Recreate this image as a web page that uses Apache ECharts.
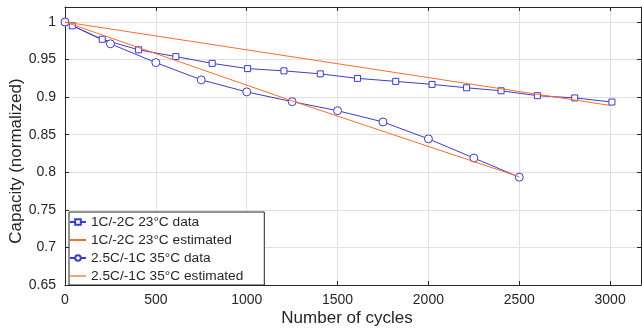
<!DOCTYPE html>
<html>
<head>
<meta charset="utf-8">
<script src="https://cdn.jsdelivr.net/npm/echarts@6/dist/echarts.min.js"></script>
<style>
  html, body { margin: 0; padding: 0; background: #fff; }
  #chart { width: 642px; height: 330px; }
</style>
</head>
<body>
<div id="chart"></div>
<script>
// measured data, 1C/-2C at 23°C
const cycles23 = [0, 40, 205, 405, 610, 810, 1005, 1205, 1405, 1610, 1820, 2020, 2210, 2400, 2600, 2805, 3010];
const capacity23 = [1.0, 0.995, 0.977, 0.963, 0.954, 0.945, 0.938, 0.935, 0.931, 0.925, 0.921, 0.917, 0.9125, 0.9085, 0.902, 0.899, 0.8935];

// measured data, 2.5C/-1C at 35°C
const cycles35 = [0, 250, 500, 750, 1000, 1250, 1500, 1750, 2000, 2250, 2500];
const capacity35 = [1.0, 0.971, 0.946, 0.923, 0.907, 0.894, 0.882, 0.867, 0.8445, 0.819, 0.7935];

// model estimates
const estCycles23 = [0, 3000];
const estCapacity23 = [1.0, 0.889];
const estCycles35 = [0, 1250, 2500];
const estCapacity35 = [1.0, 0.895, 0.794];

const seriesNames = [
  "1C/-2C 23°C data",
  "1C/-2C 23°C estimated",
  "2.5C/-1C 35°C data",
  "2.5C/-1C 35°C estimated",
];

const blue = "#3c3ccc";
const orange = "#ff6a2b";
const axisColor = "#262626";
const gridColor = "#e0e0e0";
const font = "Liberation Sans, Arial, sans-serif";

const pairs = (xs, ys) => xs.map((x, i) => [x, ys[i]]);

const chart = echarts.init(document.getElementById("chart"));

const yAxisBase = {
  type: "value",
  min: 0.65,
  max: 1.02,
  interval: 0.05,
  axisLine: { show: true, onZero: false, lineStyle: { color: axisColor, width: 1 } },
  axisTick: { show: true, inside: true, length: 4, lineStyle: { color: axisColor } },
  splitLine: { show: false },
};

const xAxisBase = {
  type: "value",
  min: 0,
  max: 3170,
  interval: 500,
  axisLine: { show: true, onZero: false, lineStyle: { color: axisColor, width: 1 } },
  axisTick: { show: true, inside: true, length: 4, lineStyle: { color: axisColor } },
  splitLine: { show: false },
};

const dataSeries = (name, xs, ys, symbol, size) => ({
  name,
  type: "line",
  data: pairs(xs, ys),
  symbol,
  symbolSize: size,
  lineStyle: { color: blue, width: 1 },
  itemStyle: { color: "#fff", borderColor: blue, borderWidth: 1 },
  z: 2,
});

const estSeries = (name, xs, ys) => ({
  name,
  type: "line",
  data: pairs(xs, ys),
  symbol: "none",
  color: orange,
  lineStyle: { color: orange, width: 1 },
  z: 3,
});

chart.setOption({
  animation: false,
  grid: { left: 65, right: 1, top: 7, bottom: 45, containLabel: false, outerBoundsMode: "none" },
  xAxis: [
    {
      ...xAxisBase,
      position: "bottom",
      name: "Number of cycles",
      nameLocation: "middle",
      nameGap: 25,
      nameMoveOverlap: false,
      nameTextStyle: { color: axisColor, fontSize: 17, fontFamily: font, padding: [0, 12, 0, 0] },
      axisLabel: {
        color: axisColor,
        fontSize: 14,
        fontFamily: font,
        margin: 8,
        showMaxLabel: false,
        formatter: (v) => String(v),
      },
      splitLine: { show: true, lineStyle: { color: gridColor, width: 1 } },
    },
    {
      ...xAxisBase,
      position: "top",
      axisLabel: { show: false },
    },
  ],
  yAxis: [
    {
      ...yAxisBase,
      position: "left",
      name: "Capacity (normalized)",
      nameLocation: "middle",
      nameGap: 40,
      nameMoveOverlap: false,
      nameTextStyle: { color: axisColor, fontSize: 17, fontFamily: font, padding: [0, 30, 0, 0] },
      axisLabel: {
        color: axisColor,
        fontSize: 14,
        fontFamily: font,
        margin: 9,
        showMaxLabel: false,
        formatter: (v) => String(+v.toFixed(2)),
      },
      splitLine: { show: true, lineStyle: { color: gridColor, width: 1 } },
    },
    {
      ...yAxisBase,
      position: "right",
      axisLabel: { show: false },
    },
  ],
  legend: {
    orient: "vertical",
    left: 69,
    top: 212,
    padding: [3, 21, 2, 0],
    itemGap: 4,
    itemWidth: 16,
    itemHeight: 7,
    backgroundColor: "#fff",
    borderColor: axisColor,
    borderWidth: 1,
    borderRadius: 0,
    textStyle: { color: axisColor, fontSize: 13.7, fontFamily: font, lineHeight: 13 },
    data: [
      { name: seriesNames[0] },
      { name: seriesNames[1], itemStyle: { opacity: 0 } },
      { name: seriesNames[2] },
      { name: seriesNames[3], itemStyle: { opacity: 0 }, lineStyle: { color: "#ffa072", width: 2 } },
    ],
  },
  series: [
    dataSeries(seriesNames[0], cycles23, capacity23, "rect", 6),
    estSeries(seriesNames[1], estCycles23, estCapacity23),
    dataSeries(seriesNames[2], cycles35, capacity35, "circle", 8),
    estSeries(seriesNames[3], estCycles35, estCapacity35),
  ],
});
</script>
</body>
</html>
